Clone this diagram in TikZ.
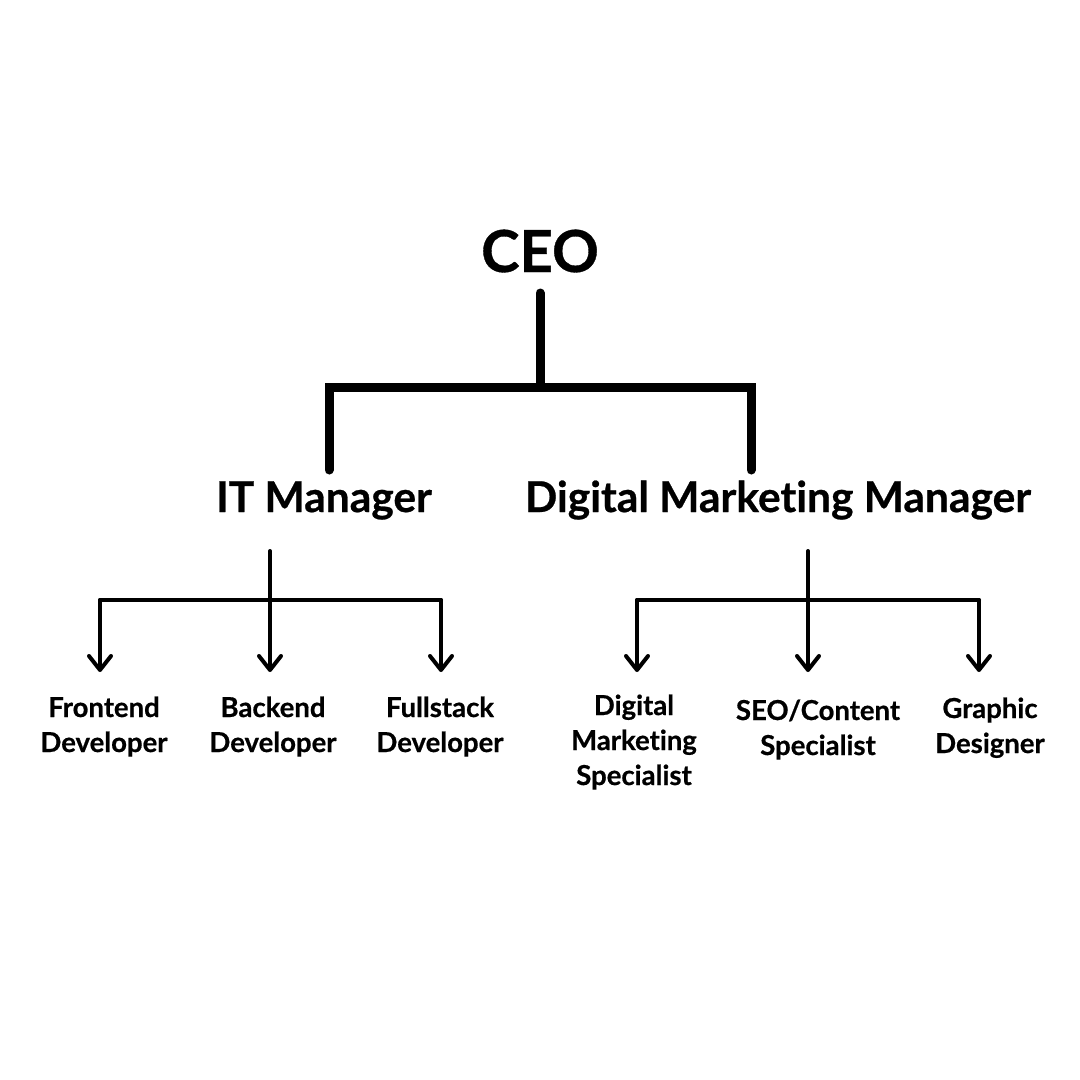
\documentclass[tikz,border=0pt]{standalone}
\usepackage{fontspec}
\setmainfont{Lato}[BoldFont={Lato Bold}, BoldFeatures={FakeBold=0.6}, Ligatures=NoCommon]
\usetikzlibrary{arrows.meta}
\tikzset{
  lbl/.style={inner sep=0pt, anchor=base, align=center, font=\bfseries\fontsize{27.5}{35}\selectfont},
  mgr/.style={inner sep=0pt, anchor=base, font=\bfseries\fontsize{42.5}{48}\selectfont},
  top/.style={inner sep=0pt, anchor=base, font=\bfseries\fontsize{58}{70}\selectfont},
  bar/.style={line width=9pt, line cap=round, line join=miter},
  conn/.style={line width=4pt, line cap=round, line join=round},
  arr/.style={conn, -{Straight Barb[length=14pt,width=22pt,line cap=round,line join=round]}}
}
\begin{document}
\begin{tikzpicture}[x=1pt,y=-1pt]
\useasboundingbox[fill=white] (0,0) rectangle (1080,1080);
% nodes
\node[top] (ceo) at (540,272) {CEO};
\node[mgr] (itm) at (324,512) {IT Manager};
\node[mgr] (dmm) at (778,512) {Digital Marketing Manager};
\node[lbl] (fe) at (104,752) {Frontend\\Developer};
\node[lbl] (be) at (273,752) {Backend\\Developer};
\node[lbl] (fs) at (440,752) {Fullstack\\Developer};
\node[lbl] (dms) at (634,785) {Digital\\Marketing\\Specialist};
\node[lbl] (seo) at (818,755) {SEO/Content\\Specialist};
\node[lbl] (gd) at (990,753) {Graphic\\Designer};
% top-level connector
\coordinate (ceoTop) at (540,293);
\coordinate (split) at (540,387);
\coordinate (itmLeg) at (329,470);
\coordinate (dmmLeg) at (751,470);
\draw[bar] (ceoTop) -- (split);
\draw[bar] (itmLeg) |- (split) -| (dmmLeg);
% IT branch
\coordinate (itTop) at (270,551);
\coordinate (itL) at (100,600);
\coordinate (itR) at (441,600);
\coordinate (feTip) at (100,672);
\coordinate (beTip) at (270,672);
\coordinate (fsTip) at (441,672);
\draw[conn] (itL) -- (itR);
\draw[arr] (itTop) -- (beTip);
\draw[arr] (itL) -- (feTip);
\draw[arr] (itR) -- (fsTip);
% DM branch
\coordinate (dmTop) at (808,551);
\coordinate (dmL) at (637,600);
\coordinate (dmR) at (979,600);
\coordinate (dmsTip) at (637,672);
\coordinate (seoTip) at (808,672);
\coordinate (gdTip) at (979,672);
\draw[conn] (dmL) -- (dmR);
\draw[arr] (dmTop) -- (seoTip);
\draw[arr] (dmL) -- (dmsTip);
\draw[arr] (dmR) -- (gdTip);
\end{tikzpicture}
\end{document}
